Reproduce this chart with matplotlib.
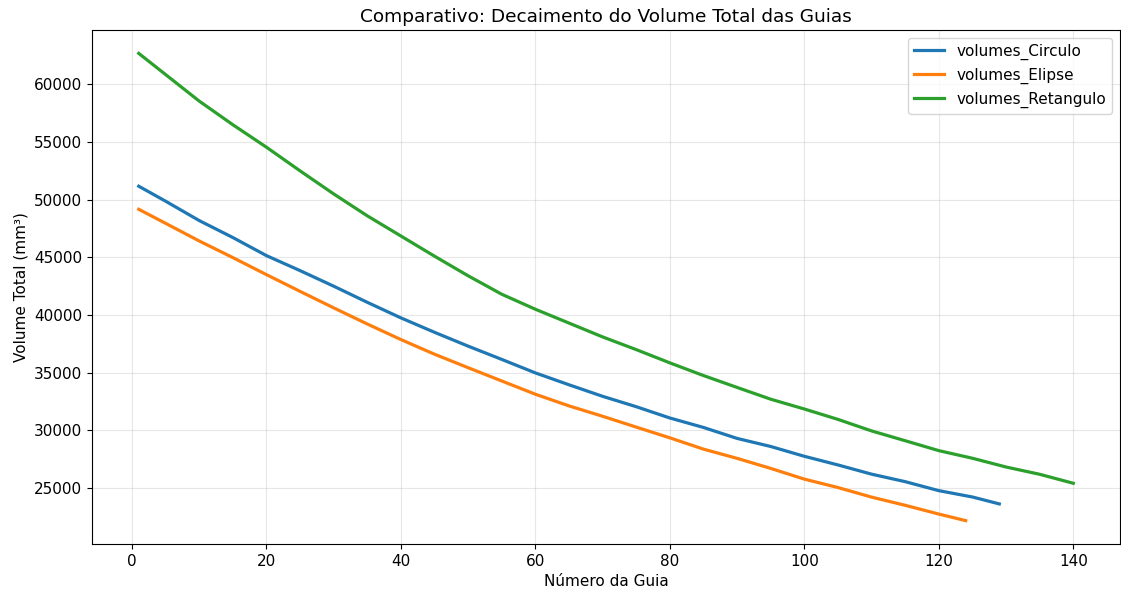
import numpy as np
import matplotlib
matplotlib.use("Agg")
import matplotlib.pyplot as plt

# valores (volume total por guia, mm3)
guias_circulo = [1, 5, 10, 15, 20, 25, 30, 35, 40, 45, 50, 55, 60, 65, 70,
                 75, 80, 85, 90, 95, 100, 105, 110, 115, 120, 125, 129]
volumes_circulo = [51170, 49870, 48190, 46720, 45150, 43850, 42500, 41100, 39750,
                   38500, 37300, 36150, 34980, 33950, 32950, 32050, 31070, 30250,
                   29300, 28600, 27750, 27000, 26200, 25550, 24770, 24220, 23620]

guias_elipse = [1, 5, 10, 15, 20, 25, 30, 35, 40, 45, 50, 55, 60, 65, 70,
                75, 80, 85, 90, 95, 100, 105, 110, 115, 120, 124]
volumes_elipse = [49170, 47950, 46420, 44980, 43500, 42050, 40620, 39220, 37870,
                  36600, 35430, 34280, 33130, 32120, 31220, 30280, 29350, 28370,
                  27570, 26700, 25770, 25040, 24210, 23500, 22740, 22170]

guias_retangulo = [1, 5, 10, 15, 20, 25, 30, 35, 40, 45, 50, 55, 60, 65, 70,
                   75, 80, 85, 90, 95, 100, 105, 110, 115, 120, 125, 130, 135, 140]
volumes_retangulo = [62690, 60850, 58550, 56500, 54550, 52500, 50500, 48600, 46850,
                     45100, 43400, 41800, 40500, 39300, 38100, 37000, 35850, 34750,
                     33720, 32700, 31850, 30950, 29950, 29100, 28240, 27580, 26820,
                     26190, 25410]


def main():
    fig, ax = plt.subplots(figsize=(11.21, 5.94), dpi=100)
    fig.subplots_adjust(left=92 / 1121, right=1120 / 1121,
                        bottom=50 / 594, top=1 - 30 / 594)

    ax.plot(guias_circulo, volumes_circulo, lw=2.3, label="volumes_Circulo")
    ax.plot(guias_elipse, volumes_elipse, lw=2.3, label="volumes_Elipse")
    ax.plot(guias_retangulo, volumes_retangulo, lw=2.3, label="volumes_Retangulo")

    ax.set_title("Comparativo: Decaimento do Volume Total das Guias", fontsize=13.3)
    ax.set_xlabel("Número da Guia", fontsize=11)
    ax.set_ylabel("Volume Total (mm³)", fontsize=11)
    ax.tick_params(labelsize=11)
    ax.grid(True, alpha=0.3)
    ax.legend(loc="upper right", fontsize=11)

    fig.savefig("out.png")


if __name__ == "__main__":
    main()
